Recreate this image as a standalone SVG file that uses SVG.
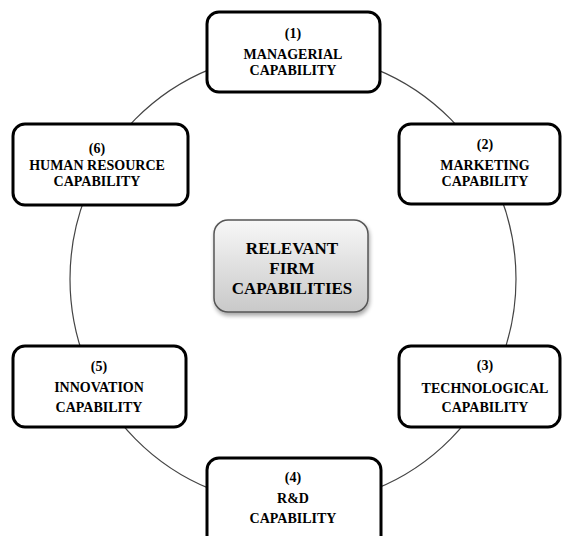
<svg xmlns="http://www.w3.org/2000/svg" width="563" height="536" viewBox="0 0 563 536">
<defs>
<linearGradient id="g" x1="0" y1="0" x2="0" y2="1">
<stop offset="0" stop-color="#f7f7f7"/>
<stop offset="1" stop-color="#c9c9c9"/>
</linearGradient>
<filter id="sh" x="-10%" y="-10%" width="125%" height="130%">
<feGaussianBlur in="SourceAlpha" stdDeviation="2"/>
<feOffset dx="1" dy="3"/>
<feComponentTransfer><feFuncA type="linear" slope="0.35"/></feComponentTransfer>
<feMerge><feMergeNode/><feMergeNode in="SourceGraphic"/></feMerge>
</filter>
</defs>
<style>
.box{fill:#fff;stroke:#000;stroke-width:3}
.t{font-family:"Liberation Serif","Times New Roman",serif;font-weight:bold;font-size:14px;fill:#000;text-anchor:middle}
.c{font-size:17px}
.conn{fill:none;stroke:#444;stroke-width:1.2}
</style>
<rect width="563" height="536" fill="#fff"/>
<g id="connectors">
<ellipse class="conn" cx="293" cy="279" rx="223" ry="226"/>
</g>
<g id="center">
<rect x="214" y="220" width="154" height="92" rx="14" fill="url(#g)" stroke="#555" stroke-width="1.5" filter="url(#sh)"/>
<text class="t c" x="292" y="254">RELEVANT</text>
<text class="t c" x="292" y="274">FIRM</text>
<text class="t c" x="292" y="294">CAPABILITIES</text>
</g>
<g id="n1">
<rect class="box" x="207" y="12" width="173" height="80" rx="12"/>
<text class="t" x="293" y="38">(1)</text>
<text class="t" x="293" y="59">MANAGERIAL</text>
<text class="t" x="293" y="75">CAPABILITY</text>
</g>
<g id="n2">
<rect class="box" x="399" y="124" width="161" height="80" rx="12"/>
<text class="t" x="485" y="149">(2)</text>
<text class="t" x="485" y="170">MARKETING</text>
<text class="t" x="485" y="186">CAPABILITY</text>
</g>
<g id="n3">
<rect class="box" x="399" y="346" width="161" height="81" rx="12"/>
<text class="t" x="485" y="370">(3)</text>
<text class="t" x="485" y="393">TECHNOLOGICAL</text>
<text class="t" x="485" y="412">CAPABILITY</text>
</g>
<g id="n4">
<rect class="box" x="207" y="458" width="174" height="90" rx="12"/>
<text class="t" x="293" y="482">(4)</text>
<text class="t" x="293" y="503">R&amp;D</text>
<text class="t" x="293" y="523">CAPABILITY</text>
</g>
<g id="n5">
<rect class="box" x="13" y="346" width="173" height="81" rx="12"/>
<text class="t" x="99" y="371">(5)</text>
<text class="t" x="99" y="392">INNOVATION</text>
<text class="t" x="99" y="412">CAPABILITY</text>
</g>
<g id="n6">
<rect class="box" x="13" y="124" width="175" height="81" rx="12"/>
<text class="t" x="97" y="153">(6)</text>
<text class="t" x="97" y="170">HUMAN RESOURCE</text>
<text class="t" x="97" y="186">CAPABILITY</text>
</g>
</svg>
